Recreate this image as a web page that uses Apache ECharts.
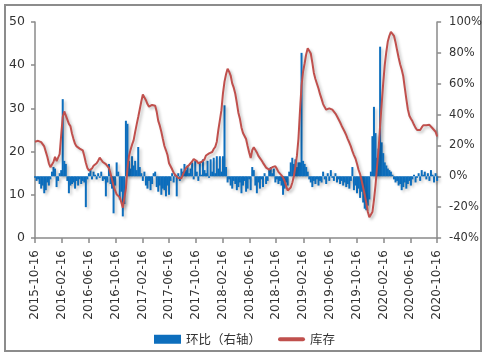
<!DOCTYPE html>
<html>
<head>
<meta charset="utf-8">
<script src="https://cdn.jsdelivr.net/npm/echarts@6/dist/echarts.min.js"></script>
<style>
html,body{margin:0;padding:0;background:#fff;}
#c{width:485px;height:358px;}
</style>
</head>
<body>
<div id="c"></div>
<script>
// Weekly data starting 2015-10-16
const startYear = 2015, startMonth = 10, startDay = 16;

// 库存 (left axis)
const stock = [
22.3,22.6,22.5,22.5,22.2,21.9,21.2,20.0,18.8,17.3,
16.4,16.2,17.6,18.8,17.8,17.4,19.4,23.8,28.0,29.3,
29.1,27.4,26.4,25.9,24.2,22.9,21.8,21.2,20.9,20.7,
20.5,20.3,19.0,17.4,16.2,15.6,15.7,16.1,16.7,17.0,
17.3,17.9,18.6,18.2,17.6,17.2,17.1,16.8,16.2,15.0,
13.5,12.0,11.0,10.1,9.8,9.4,8.3,7.0,7.4,11.5,
16.0,19.0,20.4,21.6,22.6,24.5,26.3,28.0,29.8,31.6,
33.2,33.2,31.9,31.0,30.4,30.3,30.8,31.1,30.6,29.2,
27.1,26.0,24.6,22.9,21.3,20.3,19.2,17.3,16.6,15.9,
15.1,14.6,14.2,13.9,13.5,13.8,14.7,15.5,16.2,16.5,
16.9,17.2,17.7,18.3,18.2,17.8,17.3,17.4,17.6,17.9,
18.2,19.1,19.4,19.6,19.8,19.9,20.6,21.1,22.3,25.0,
27.3,29.6,33.5,36.2,37.9,39.2,38.5,37.6,35.8,34.8,
33.4,31.3,29.0,27.6,25.6,24.3,23.6,22.9,21.3,19.8,
18.5,20.3,21.0,20.6,19.8,19.0,18.5,18.0,17.4,17.0,
16.3,15.9,15.8,15.8,16.4,16.8,16.6,16.0,15.3,14.9,
14.5,14.0,13.2,12.0,11.0,10.8,11.7,12.8,14.3,16.5,
19.0,23.0,29.5,35.3,38.5,40.4,42.5,43.9,44.3,42.7,
40.6,38.2,36.8,35.7,34.6,33.3,32.2,31.0,30.3,29.7,
29.8,30.0,29.9,29.7,29.3,28.8,28.2,27.5,26.8,26.0,
25.3,24.6,23.8,22.9,22.1,21.2,20.1,19.2,18.4,17.2,
15.8,14.8,13.3,11.7,10.0,8.2,6.1,4.8,4.5,6.0,
8.8,12.2,16.5,20.5,26.0,31.0,35.8,40.0,43.0,45.5,
46.8,47.7,47.6,46.8,45.3,43.5,41.8,40.2,39.0,37.5,
34.8,32.2,29.8,28.3,27.6,27.0,26.2,25.5,25.0,24.7,
25.0,25.6,26.1,26.4,26.1,25.8,26.2,26.4,25.4,25.0,
24.6,23.5
];

// 环比（右轴）, percent
const momPct = [
-1,-3,-2,-5,-8,-6,-11,-9,-4,-6,
-2,3,6,5,-7,-3,2,4,50,10,
8,-3,-11,-6,-5,-4,-8,-3,-6,-2,
-5,-3,-4,-20,-2,2,4,-2,3,1,
-2,2,-1,3,-3,-2,-13,-4,8,-5,
-8,-24,-6,9,3,-15,-10,-26,-18,36,
34,10,5,13,7,10,4,19,6,2,
-3,3,-6,-8,-3,-9,-5,2,3,-7,
-10,-6,-12,-8,-9,-13,-6,-12,-3,2,
-4,1,-13,2,-3,5,3,8,4,7,
2,5,9,-2,10,3,-3,9,1,11,
4,2,10,-1,11,3,12,2,13,5,
13,3,13,46,6,-4,-2,-6,-8,-3,
-5,-9,-7,-4,-11,-6,-3,-10,-8,-2,
-9,6,4,-6,-11,-4,-8,-2,-7,2,
-5,-3,5,6,2,5,-4,-2,-5,-3,
-6,-12,-8,-4,-6,3,9,12,8,11,
6,9,9,80,10,8,6,3,-2,-4,
-7,-3,-5,-2,-6,-3,-4,3,-2,-5,
2,-3,4,-1,-3,2,-4,-2,-5,-3,
-6,-4,-7,-5,-8,-3,6,-9,-6,-11,
-8,-14,-10,-17,-21,-22,-19,-15,3,26,
45,28,12,18,84,22,15,9,7,5,
4,3,1,-2,-4,-3,-6,-5,-9,-7,
-4,-8,-5,-3,-6,-2,1,-4,-1,2,
-3,4,1,3,-2,2,-3,4,1,-4,
2,-3
];

const xTickLabels = [
'2015-10-16','2016-02-16','2016-06-16','2016-10-16','2017-02-16','2017-06-16',
'2017-10-16','2018-02-16','2018-06-16','2018-10-16','2019-02-16','2019-06-16',
'2019-10-16','2020-02-16','2020-06-16','2020-10-16'
];

const leftTicks = [0,10,20,30,40,50];
const rightTicks = [-40,-20,0,20,40,60,80,100];

const seriesNames = ['环比（右轴）','库存'];

function toTs(s){ const p=s.split('-'); return Date.UTC(+p[0], +p[1]-1, +p[2]); }
function pad(n){ return (n<10?'0':'')+n; }
function fmt(ts){ const d=new Date(ts); return d.getUTCFullYear()+'-'+pad(d.getUTCMonth()+1)+'-'+pad(d.getUTCDate()); }

const weekTs = stock.map((_, i) => Date.UTC(startYear, startMonth-1, startDay + 7*i));
const tickTs = xTickLabels.map(toTs);

const axisGray = '#8a8a8a';
const labelColor = '#333';
const fontFam = 'DejaVu Sans, Noto Sans CJK SC, sans-serif';

const chart = echarts.init(document.getElementById('c'), null, {renderer:'canvas'});
chart.setOption({
  animation:false,
  backgroundColor:'#fff',
  textStyle:{fontFamily:fontFam},
  graphic:[{
    type:'rect', shape:{x:5,y:5,width:476,height:346},
    style:{fill:'none', stroke:'#8c8c8c', lineWidth:2}, silent:true, z:-1
  }],
  grid:{left:35, top:22, width:404, height:216, containLabel:false},
  legend:{
    left:149, top:328, itemWidth:27, itemHeight:9, itemGap:17,
    symbolKeepAspect:true,
    textStyle:{fontSize:12.5, color:labelColor, fontFamily:'Noto Sans CJK SC, sans-serif'},
    data:[
      {name:seriesNames[0], icon:'rect'},
      {name:seriesNames[1], icon:'path://M2,0H25A2,2 0 0 1 25,4H2A2,2 0 0 1 2,0Z'}
    ]
  },
  xAxis:{
    type:'value',
    min:tickTs[0], max:tickTs[tickTs.length-1],
    splitLine:{show:false},
    axisLine:{lineStyle:{color:axisGray, width:1.5}},
    axisTick:{show:true, length:5, customValues:tickTs, lineStyle:{color:axisGray, width:1.5}},
    axisLabel:{rotate:90, margin:12, fontSize:12, color:labelColor, fontFamily:fontFam,
      customValues:tickTs, formatter:function(v){ return fmt(v); }, hideOverlap:false}
  },
  yAxis:[{
    type:'value', min:leftTicks[0], max:leftTicks[leftTicks.length-1], interval:10,
    splitLine:{show:false},
    axisLine:{show:true, lineStyle:{color:axisGray, width:1.5}},
    axisTick:{show:true, length:4, lineStyle:{color:axisGray, width:1.5}},
    axisLabel:{fontSize:12.5, color:labelColor, margin:10, fontFamily:fontFam}
  },{
    type:'value', min:rightTicks[0], max:rightTicks[rightTicks.length-1], interval:20,
    position:'right',
    splitLine:{show:false},
    axisLine:{show:true, lineStyle:{color:axisGray, width:1.5}},
    axisTick:{show:true, length:4, lineStyle:{color:axisGray, width:1.5}},
    axisLabel:{fontSize:11.5, color:labelColor, margin:12, fontFamily:fontFam, formatter:'{value}%'}
  }],
  series:[{
    name:seriesNames[0], type:'bar', yAxisIndex:1,
    data: momPct.map((v,i)=>[weekTs[i], v]),
    barWidth:2,
    itemStyle:{color:'#0d6ebd', shadowColor:'rgba(0,0,0,0.22)', shadowBlur:3, shadowOffsetX:2, shadowOffsetY:2},
    z:2
  },{
    name:seriesNames[1], type:'line', yAxisIndex:0,
    data: stock.map((v,i)=>[weekTs[i], v]),
    symbol:'none', showSymbol:false,
    lineStyle:{color:'#c0504d', width:2, shadowColor:'rgba(0,0,0,0.25)', shadowBlur:3, shadowOffsetX:2, shadowOffsetY:2},
    itemStyle:{color:'#c0504d'},
    z:3
  }]
});
</script>
</body>
</html>
